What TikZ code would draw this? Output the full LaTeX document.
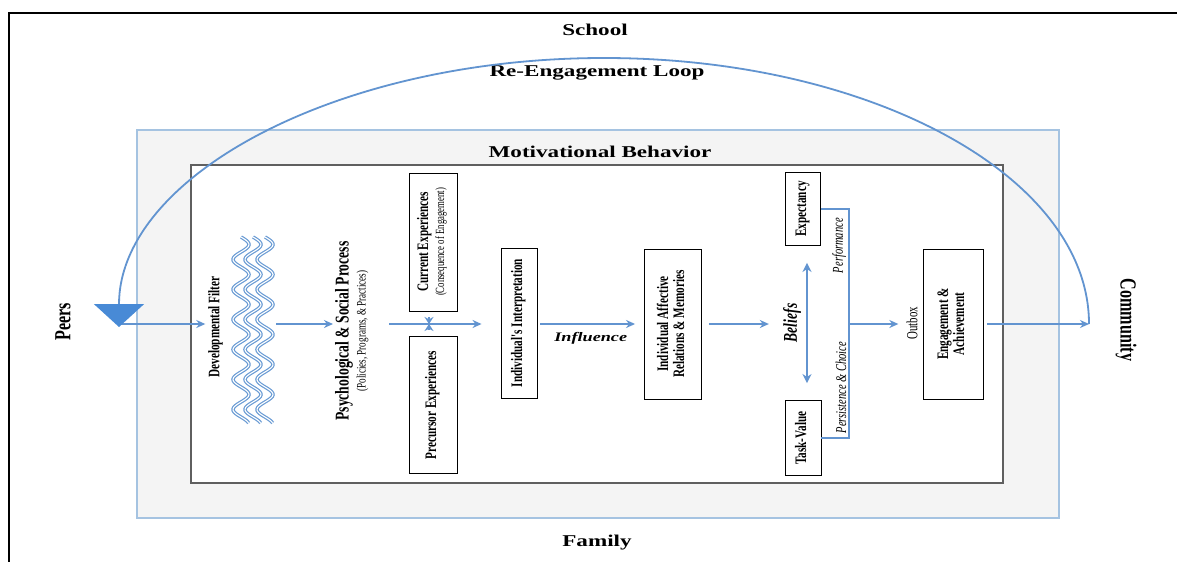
\documentclass[tikz,border=0pt]{standalone}
\usepackage{fontspec}
\setmainfont{Liberation Serif}
\newfontfamily\narrowfont{Liberation Serif}[FakeStretch=0.7]
\newfontfamily\widefont{Liberation Serif}[FakeStretch=1.4]
\usetikzlibrary{arrows.meta, positioning}

\definecolor{flowblue}{RGB}{98,148,208}
\definecolor{headblue}{RGB}{72,138,214}
\definecolor{edgeblue}{RGB}{165,195,225}
\definecolor{panel}{RGB}{244,244,244}
\definecolor{innergray}{RGB}{95,95,95}
\definecolor{waveblue}{RGB}{105,155,212}

\newcommand{\vtext}[1]{\rotatebox{90}{\begin{tabular}{@{}c@{}}#1\end{tabular}}}

\tikzset{
  box/.style={draw=black, line width=0.9pt, fill=white, inner sep=0pt,
    font=\narrowfont\bfseries\fontsize{16}{16}\selectfont},
  lbl/.style={inner sep=2pt, font=\narrowfont\fontsize{16}{17}\selectfont},
  title/.style={font=\widefont\bfseries\fontsize{16.5}{18}\selectfont},
  side/.style={inner sep=2pt, font=\narrowfont\bfseries\fontsize{23}{25}\selectfont},
  flowline/.style={draw=flowblue, line width=1.6pt},
  flow/.style={flowline, -{Stealth[length=9pt,width=8pt]}},
  wavy/.style={draw=waveblue, line width=1.2pt, double=white, double distance=1.1pt},
}

\begin{document}
\begin{tikzpicture}[x=1pt, y=-1pt]
  \useasboundingbox (0,0) rectangle (1177,562);
  \fill[white] (0,0) rectangle (1177,562);
  \draw[line width=2pt] (1177,13) -- (9,13) -- (9,562);
  \draw[edgeblue, fill=panel, line width=1.5pt] (137,130) rectangle (1059,518);
  \draw[innergray, fill=white, line width=1.5pt] (191,165) rectangle (1003,483);

  \node[title] (school) at (595,30)  {School};
  \node[title] (loop)   at (597,73)  {Re-Engagement Loop};
  \node[title] (motiv)  at (600,152) {Motivational Behavior};
  \node[title] (family) at (597,543) {Family};

  \node[side] (peers)     at (63,322)   {\rotatebox{90}{Peers}};
  \node[side] (community) at (1126,320) {\rotatebox{-90}{Community}};

  \coordinate (mainy)   at (0,324);
  \coordinate (peertip) at (119,327);
  \coordinate (loopend) at (1089,324);

  \node[lbl, font=\narrowfont\bfseries\fontsize{16}{17}\selectfont] (devf) at (216,327) {\vtext{Developmental Filter}};
  \node[minimum width=44pt, minimum height=190pt, inner sep=0pt] (filter) at (254,330) {};
  \foreach \dx in {0,12,24}
    \draw[wavy] plot[domain=0:186, samples=120, smooth] ({241+\dx+8*sin(\x*12)}, {237+\x});

  \node[lbl] (psych) at (353,331) {\vtext{{\bfseries\fontsize{19.5}{20}\selectfont Psychological \& Social Process}\\
    {\fontsize{13}{13}\selectfont (Policies, Programs, \& Practices)}}};

  \node[box, minimum width=48pt, minimum height=138pt] (cur) at (433,242)
    {\vtext{Current Experiences\\{\mdseries\fontsize{12.5}{13}\selectfont (Consequence of Engagement)}}};
  \node[box, minimum width=48pt, minimum height=137pt] (pre) at (433,405) {\vtext{Precursor Experiences}};
  \node[box, minimum width=36pt, minimum height=150pt] (interp) at (519,323) {\vtext{Individual's Interpretation}};
  \node[box, minimum width=57pt, minimum height=150pt] (affect) at (673,324) {\vtext{Individual Affective\\Relations \& Memories}};
  \node[lbl, font=\narrowfont\bfseries\itshape\fontsize{19.5}{20}\selectfont] (beliefs) at (792,323) {\rotatebox{90}{Beliefs}};
  \node[box, minimum width=35pt, minimum height=73pt] (expect) at (803,209) {\vtext{Expectancy}};
  \node[box, minimum width=36pt, minimum height=75pt] (taskv)  at (803,438) {\vtext{Task-Value}};
  \node[lbl, font=\narrowfont\fontsize{15.5}{16}\selectfont] (outbox) at (912,323) {\rotatebox{90}{Outbox}};
  \node[box, minimum width=60pt, minimum height=150pt] (engage) at (953,324) {\vtext{Engagement \&\\Achievement}};

  \draw[flow] (peertip |- mainy) -- (devf.west |- mainy);
  \draw[flow] (filter.east |- mainy) -- (psych.west |- mainy);
  \draw[flow, shorten <=16pt, shorten >=19pt] (psych.east |- mainy) -- (interp.west |- mainy);
  \draw[flowline, -{Stealth[length=7pt,width=9pt]}, shorten <=6pt] ([xshift=-4pt]cur.south) -- ([xshift=-4pt]cur.south |- mainy);
  \draw[flowline, -{Stealth[length=7pt,width=9pt]}, shorten <=6pt] ([xshift=-4pt]pre.north) -- ([xshift=-4pt]pre.north |- mainy);
  \draw[flow, shorten <=3pt, shorten >=9pt] (interp.east |- mainy) -- node[below=4pt, font=\widefont\bfseries\itshape\fontsize{13}{14}\selectfont] (infl) {Influence} (affect.west |- mainy);
  \draw[flow, shorten <=7pt, shorten >=12pt] (affect.east |- mainy) -- (beliefs.west |- mainy);
  \draw[flowline, {Stealth[length=9pt,width=9pt]}-{Stealth[length=9pt,width=9pt]}, shorten <=17pt, shorten >=17pt]
    ([xshift=4pt]expect.south) -- ([xshift=4pt]taskv.north);
  \draw[flowline] (expect.east) -- ++(28,0) coordinate (fork)
    |- node[pos=0.08, anchor=east, lbl, font=\narrowfont\itshape\fontsize{15}{16}\selectfont] (perf) {\rotatebox{90}{Performance}}
       node[pos=0.39, anchor=east, lbl, font=\narrowfont\itshape\fontsize{15}{16}\selectfont] (pers) {\rotatebox{90}{Persistence \& Choice}}
    (taskv.east);
  \draw[flow, shorten >=6pt] (fork |- mainy) -- (outbox.west |- mainy);
  \draw[flow, shorten <=4pt] (engage.east |- mainy) -- (loopend);

  \draw[flowline, line width=1.8pt, -{Triangle[width=50pt,length=23pt,color=headblue]}]
    (loopend) .. controls (1089,177) and (872,58) .. (604,58)
              .. controls (336,58) and (119,177) .. (peertip);
\end{tikzpicture}
\end{document}
